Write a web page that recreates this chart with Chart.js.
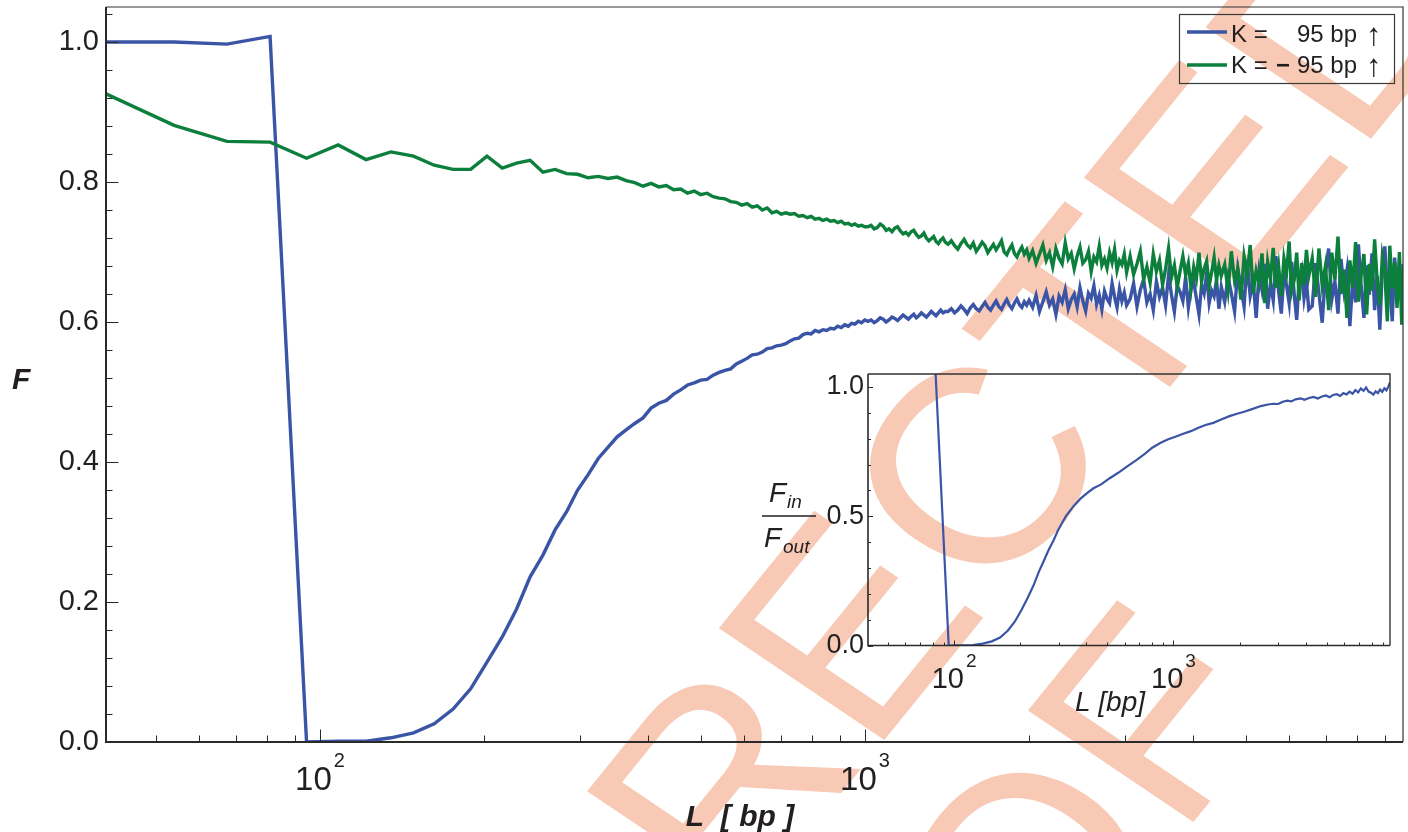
<!DOCTYPE html>
<html>
<head>
<meta charset="utf-8">
<title>F vs L</title>
<script src="https://cdn.jsdelivr.net/npm/chart.js@4.4.1/dist/chart.umd.min.js"></script>
<style>
  body { margin: 0; background: #fff; }
  #wrap { position: relative; width: 1408px; height: 832px; }
  #wrap canvas { position: absolute; left: 0; top: 0; }
</style>
</head>
<body>
<div id="wrap">
  <canvas id="mainChart" width="1408" height="832"></canvas>
  <canvas id="insetChart" width="1408" height="832"></canvas>
</div>
<script>
var FONT = "'Liberation Sans', Arial, Helvetica, sans-serif";
var INK = '#231f20';
var BLUE = '#3a54a6';
var GREEN = '#0c7f3c';

// L [bp], shared by both curves of the main panel
var lengthsBp = [
  40.5, 54, 67.5, 81, 94.5, 108, 121.5, 135, 148.5, 162, 175.5, 189, 202.5, 216, 229.5, 243, 256.5, 270, 283.5, 297,
  310.5, 324, 337.5, 351, 364.5, 378, 391.5, 405, 418.5, 432, 445.5, 459, 472.5, 486, 499.5, 513, 526.5, 540, 553.5, 567,
  580.5, 594, 607.5, 621, 634.5, 648, 661.5, 675, 688.5, 702,
  715.5, 729, 742.5, 756, 769.5, 783, 796.5, 810, 823.5, 837, 850.5, 864, 877.5, 891, 904.5, 918, 931.5, 945, 958.5, 972,
  985.5, 999,
  1012.5, 1026, 1039.5, 1053, 1066.5, 1080, 1093.5, 1107, 1120.5, 1134, 1147.5, 1161, 1174.5, 1188, 1201.5, 1215, 1228.5,
  1242, 1255.5, 1269, 1282.5, 1296, 1309.5, 1323, 1336.5, 1350, 1363.5, 1377, 1390.5, 1404,
  1420, 1440, 1460, 1480, 1500, 1520, 1540, 1560, 1580, 1600, 1620, 1640, 1660, 1680, 1700, 1720, 1740, 1760, 1780, 1800,
  1820, 1840, 1860, 1880, 1900, 1920, 1940, 1960, 1980, 2000,
  2030, 2060, 2090, 2120, 2150, 2180, 2210, 2240, 2270, 2300, 2330, 2360, 2390, 2420, 2450, 2480, 2510, 2540, 2570, 2600,
  2630, 2660, 2690, 2720, 2750, 2780, 2810, 2840, 2870, 2900, 2930, 2960, 2990, 3020,
  3065, 3110, 3155, 3200, 3245, 3290, 3335, 3380, 3425, 3470, 3515, 3560, 3605, 3650, 3695, 3740, 3785, 3830, 3875, 3920,
  3965, 4010, 4055, 4100, 4145, 4190, 4235, 4280, 4325, 4370, 4415, 4460, 4505,
  4570, 4635, 4700, 4765, 4830, 4895, 4960, 5025, 5090, 5155, 5220, 5285, 5350, 5415, 5480, 5545, 5610, 5675, 5740, 5805,
  5870, 5935, 6000, 6065, 6130, 6195, 6260, 6325, 6390, 6455, 6520,
  6615, 6710, 6805, 6900, 6995, 7090, 7185, 7280, 7375, 7470, 7565, 7660, 7755, 7850, 7945, 8040, 8135, 8230, 8325, 8420,
  8515, 8610, 8705, 8800, 8895, 8990, 9085, 9180, 9275, 9370, 9465, 9560, 9655, 9706.5
];

// F for K = 95 bp
var fPlus = [
  1.000, 1.000, 0.997, 1.008, 0.000, 0.001, 0.001, 0.006, 0.013, 0.026, 0.047, 0.076, 0.114, 0.150, 0.190, 0.236, 0.267, 0.303, 0.329, 0.360,
  0.382, 0.405, 0.421, 0.436, 0.446, 0.455, 0.463, 0.477, 0.484, 0.488, 0.497, 0.503, 0.510, 0.513, 0.517, 0.518, 0.524, 0.528, 0.531, 0.533,
  0.540, 0.544, 0.548, 0.553, 0.554, 0.557, 0.562, 0.563, 0.566, 0.567,
  0.569, 0.573, 0.576, 0.577, 0.582, 0.584, 0.583, 0.588, 0.586, 0.589, 0.588, 0.591, 0.590, 0.594, 0.592, 0.596, 0.594, 0.598, 0.597, 0.601,
  0.599, 0.603,
  0.601, 0.603, 0.599, 0.602, 0.606, 0.604, 0.600, 0.603, 0.607, 0.605, 0.602, 0.606, 0.610, 0.607, 0.604, 0.608, 0.611,
  0.606, 0.609, 0.613, 0.610, 0.607, 0.611, 0.615, 0.612, 0.609, 0.613, 0.617, 0.613, 0.615,
  0.615, 0.619, 0.613, 0.617, 0.623, 0.618, 0.612, 0.620, 0.625, 0.619, 0.616, 0.622, 0.628, 0.621, 0.617, 0.624, 0.630, 0.622, 0.618, 0.626,
  0.632, 0.624, 0.619, 0.627, 0.633, 0.625, 0.621, 0.629, 0.624, 0.631,
  0.621, 0.638, 0.615, 0.629, 0.643, 0.624, 0.633, 0.611, 0.637, 0.628, 0.646, 0.619, 0.632, 0.640, 0.622, 0.649, 0.630, 0.616, 0.641, 0.634,
  0.652, 0.625, 0.638, 0.618, 0.644, 0.633, 0.627, 0.655, 0.636, 0.621, 0.647, 0.630, 0.642, 0.624,
  0.633, 0.655, 0.622, 0.646, 0.661, 0.628, 0.640, 0.617, 0.658, 0.636, 0.649, 0.624, 0.667, 0.639, 0.615, 0.652, 0.643, 0.630, 0.664, 0.621,
  0.648, 0.657, 0.634, 0.611, 0.653, 0.641, 0.669, 0.627, 0.645, 0.637, 0.660, 0.619, 0.650,
  0.629, 0.664, 0.641, 0.615, 0.676, 0.650, 0.622, 0.689, 0.637, 0.658, 0.606, 0.671, 0.646, 0.683, 0.619, 0.655, 0.631, 0.694, 0.643, 0.612,
  0.668, 0.652, 0.627, 0.686, 0.640, 0.603, 0.662, 0.675, 0.634, 0.657, 0.618,
  0.623, 0.684, 0.641, 0.599, 0.669, 0.705, 0.632, 0.658, 0.612, 0.690, 0.646, 0.674, 0.594, 0.662, 0.628, 0.711, 0.650, 0.606, 0.681, 0.639,
  0.698, 0.617, 0.666, 0.589, 0.677, 0.708, 0.635, 0.654, 0.601, 0.692, 0.644, 0.670, 0.625, 0.683
];

// F for K = -95 bp
var fMinus = [
  0.926, 0.881, 0.858, 0.857, 0.834, 0.853, 0.832, 0.843, 0.837, 0.824, 0.818, 0.818, 0.837, 0.820, 0.827, 0.831, 0.814, 0.818, 0.812, 0.811,
  0.806, 0.808, 0.805, 0.807, 0.802, 0.799, 0.794, 0.798, 0.793, 0.795, 0.789, 0.790, 0.784, 0.787, 0.782, 0.784, 0.779, 0.777, 0.776, 0.772,
  0.771, 0.767, 0.769, 0.764, 0.766, 0.760, 0.763, 0.756, 0.758, 0.754,
  0.756, 0.754, 0.755, 0.751, 0.752, 0.749, 0.751, 0.747, 0.748, 0.745, 0.747, 0.744, 0.745, 0.742, 0.744, 0.740, 0.741, 0.738, 0.740, 0.737,
  0.738, 0.736,
  0.736, 0.738, 0.733, 0.735, 0.740, 0.737, 0.731, 0.733, 0.729, 0.734, 0.736, 0.730, 0.726, 0.728, 0.724, 0.729, 0.731,
  0.725, 0.721, 0.723, 0.727, 0.720, 0.716, 0.719, 0.722, 0.715, 0.712, 0.717, 0.720, 0.714,
  0.711, 0.716, 0.709, 0.704, 0.712, 0.718, 0.710, 0.706, 0.713, 0.701, 0.707, 0.714, 0.709, 0.699, 0.705, 0.711, 0.703, 0.709, 0.716, 0.700,
  0.696, 0.704, 0.710, 0.698, 0.693, 0.701, 0.707, 0.697, 0.703, 0.691,
  0.702, 0.684, 0.697, 0.710, 0.688, 0.699, 0.679, 0.705, 0.691, 0.683, 0.713, 0.690, 0.698, 0.676, 0.694, 0.707, 0.684, 0.689, 0.701, 0.672,
  0.693, 0.686, 0.708, 0.681, 0.690, 0.677, 0.699, 0.685, 0.704, 0.674, 0.688, 0.682, 0.697, 0.671,
  0.694, 0.668, 0.683, 0.701, 0.661, 0.679, 0.656, 0.697, 0.672, 0.688, 0.653, 0.676, 0.705, 0.664, 0.681, 0.650, 0.673, 0.694, 0.667, 0.684,
  0.648, 0.679, 0.662, 0.699, 0.658, 0.676, 0.687, 0.652, 0.671, 0.692, 0.660, 0.681, 0.666,
  0.682, 0.645, 0.701, 0.659, 0.676, 0.632, 0.694, 0.668, 0.710, 0.641, 0.673, 0.655, 0.698, 0.627, 0.686, 0.662, 0.706, 0.649, 0.679, 0.637,
  0.691, 0.670, 0.715, 0.644, 0.660, 0.699, 0.631, 0.684, 0.653, 0.703, 0.666,
  0.691, 0.636, 0.705, 0.652, 0.680, 0.617, 0.699, 0.661, 0.722, 0.640, 0.675, 0.606, 0.688, 0.649, 0.714, 0.629, 0.668, 0.697, 0.611, 0.683,
  0.645, 0.718, 0.657, 0.624, 0.693, 0.671, 0.601, 0.709, 0.648, 0.685, 0.620, 0.700, 0.596, 0.676
];

// inset: F_in / F_out against L
var insetLengths = [
  40.5, 54, 67.5, 81, 94.5, 108, 121.5, 135, 148.5, 162, 175.5, 189, 202.5, 216, 229.5, 243, 256.5, 270, 283.5, 297,
  310.5, 324, 351, 378, 405, 432, 470, 510, 560, 620, 680, 740, 800, 870, 940, 1020, 1100, 1200, 1300, 1400,
  1520, 1650, 1800, 1950, 2100, 2300, 2500, 2700, 2850, 3000, 3150, 3300, 3450, 3600, 3800, 3950, 4150, 4350, 4550, 4750,
  4950, 5150, 5350, 5550, 5750, 5950, 6150, 6350, 6550, 6750, 6950, 7150, 7350, 7550, 7750, 7950, 8150, 8350, 8550, 8750,
  8950, 9150, 9350, 9550, 9706.5
];
var insetRatio = [
  1.080, 1.135, 1.162, 1.176, 0.000, 0.001, 0.002, 0.007, 0.016, 0.031, 0.057, 0.092, 0.136, 0.183, 0.230, 0.284, 0.328, 0.370, 0.405, 0.444,
  0.474, 0.501, 0.540, 0.569, 0.590, 0.608, 0.624, 0.646, 0.668, 0.695, 0.718, 0.741, 0.765, 0.783, 0.797, 0.807, 0.818, 0.829, 0.842, 0.853,
  0.861, 0.874, 0.887, 0.896, 0.904, 0.915, 0.926, 0.932, 0.935, 0.934, 0.943, 0.947, 0.944, 0.952, 0.956, 0.950, 0.957, 0.961, 0.955, 0.963,
  0.967, 0.960, 0.969, 0.972, 0.965, 0.976, 0.971, 0.982, 0.974, 0.988, 0.979, 0.994, 0.985, 0.998, 0.982, 0.978, 0.970, 0.983, 0.976, 0.990,
  0.981, 0.995, 0.987, 1.002, 1.018
];

var xMajorTicks = [100, 1000];
var xMinorTicks = [50, 60, 70, 80, 90, 200, 300, 400, 500, 600, 700, 800, 900, 2000, 3000, 4000, 5000, 6000, 7000, 8000, 9000];
var yMainTicks = [0, 0.2, 0.4, 0.6, 0.8, 1.0];
var yMainMinor = [0.04, 0.08, 0.12, 0.16, 0.24, 0.28, 0.32, 0.36, 0.44, 0.48, 0.52, 0.56, 0.64, 0.68, 0.72, 0.76, 0.84, 0.88, 0.92, 0.96, 1.04];
var yInsetTicks = [0, 0.5, 1.0];
var yInsetMinor = [0.1, 0.2, 0.3, 0.4, 0.6, 0.7, 0.8, 0.9];

var legendRows = [
  { color: BLUE, sign: '' },
  { color: GREEN, sign: '\u2212' }
];

function pts(xs, ys) {
  return xs.map(function (L, i) { return { x: L, y: ys[i] }; });
}

// fixed box sizes; drop the extra room Chart.js keeps for half tick labels
function fixWidth(w) {
  return function (s) { s.width = w; s.paddingTop = 0; s.paddingBottom = 0; };
}
function fixHeight(h) {
  return function (s) { s.height = h; s.paddingLeft = 0; s.paddingRight = 0; };
}

// big diagonal stamp behind the main panel
var stamp = {
  id: 'stamp',
  beforeDraw: function (chart) {
    var ctx = chart.ctx;
    var a = -51 * Math.PI / 180, b = 34 * Math.PI / 180;
    ctx.save();
    ctx.setTransform(Math.cos(a), Math.sin(a), Math.cos(b), Math.sin(b), 332, 1422);
    ctx.fillStyle = '#f8c9b4';
    ctx.font = '290px ' + FONT;
    ctx.textAlign = 'left';
    ctx.textBaseline = 'alphabetic';
    ctx.fillText('CORRECTED', 0, 0);
    ctx.fillText('PROOF', 105, 293);
    ctx.restore();
  }
};

// frame, inward ticks and 10^n labels
var axesDecor = {
  id: 'axesDecor',
  afterDraw: function (chart, args, o) {
    var ctx = chart.ctx, a = chart.chartArea, x = chart.scales.x, y = chart.scales.y;
    ctx.save();
    ctx.strokeStyle = '#333';
    ctx.lineWidth = o.frameWidth;
    ctx.beginPath();
    ctx.moveTo(a.left, a.top); ctx.lineTo(a.right, a.top); ctx.lineTo(a.right, a.bottom);
    ctx.stroke();
    ctx.strokeStyle = '#2a2a2a';
    ctx.lineWidth = o.axisWidth;
    ctx.beginPath();
    ctx.moveTo(a.left, a.top); ctx.lineTo(a.left, a.bottom); ctx.lineTo(a.right, a.bottom);
    ctx.stroke();

    ctx.lineWidth = 1;
    ctx.beginPath();
    function xt(v, len) {
      var px = Math.round(x.getPixelForValue(v)) + 0.5;
      ctx.moveTo(px, a.bottom); ctx.lineTo(px, a.bottom - len);
    }
    function yt(v, len) {
      var py = Math.round(y.getPixelForValue(v)) + 0.5;
      ctx.moveTo(a.left, py); ctx.lineTo(a.left + len, py);
    }
    xMajorTicks.forEach(function (v) { xt(v, o.majorLen); });
    xMinorTicks.forEach(function (v) { xt(v, o.minorLen); });
    o.yMajor.forEach(function (v) { yt(v, o.majorLen); });
    o.yMinor.forEach(function (v) { yt(v, o.minorLen); });
    ctx.stroke();

    ctx.fillStyle = INK;
    ctx.textAlign = 'left';
    ctx.textBaseline = 'alphabetic';
    xMajorTicks.forEach(function (v) {
      var base = '10', sup = String(Math.round(Math.log10(v)));
      ctx.font = o.baseSize + 'px ' + FONT;
      var w1 = ctx.measureText(base).width;
      ctx.font = o.supSize + 'px ' + FONT;
      var w2 = ctx.measureText(sup).width;
      var left = x.getPixelForValue(v) - (w1 + w2 + 2) / 2;
      ctx.font = o.baseSize + 'px ' + FONT;
      ctx.fillText(base, left, o.baseY);
      ctx.font = o.supSize + 'px ' + FONT;
      ctx.fillText(sup, left + w1 + 2, o.supY);
    });
    ctx.restore();
  }
};

// free text: axis titles
var texts = {
  id: 'texts',
  afterDraw: function (chart, args, o) {
    var ctx = chart.ctx;
    ctx.save();
    ctx.fillStyle = INK;
    ctx.strokeStyle = INK;
    ctx.textBaseline = 'alphabetic';
    o.items.forEach(function (t) {
      if (t.bar) {
        ctx.lineWidth = 1.5;
        ctx.beginPath(); ctx.moveTo(t.x1, t.y); ctx.lineTo(t.x2, t.y); ctx.stroke();
        return;
      }
      ctx.font = t.font;
      ctx.textAlign = t.align || 'left';
      ctx.fillText(t.text, t.x, t.y);
    });
    ctx.restore();
  }
};

// legend box in the top right corner
var keyBox = {
  id: 'keyBox',
  afterDraw: function (chart) {
    var ctx = chart.ctx;
    ctx.save();
    ctx.strokeStyle = '#3a3a3a';
    ctx.lineWidth = 1.2;
    ctx.strokeRect(1179.5, 14.5, 215, 69);
    legendRows.forEach(function (row, i) {
      var ly = 32 + i * 33, base = 42 + i * 31;
      ctx.strokeStyle = row.color;
      ctx.lineWidth = 3.5;
      ctx.beginPath(); ctx.moveTo(1187, ly); ctx.lineTo(1227, ly); ctx.stroke();
      ctx.fillStyle = INK;
      ctx.textAlign = 'left';
      ctx.textBaseline = 'alphabetic';
      ctx.font = '24px ' + FONT;
      ctx.fillText('K =', 1231, base);
      if (row.sign) {
        ctx.font = 'bold 24px ' + FONT;
        ctx.fillText(row.sign, 1276, base);
        ctx.font = '24px ' + FONT;
      }
      ctx.fillText('95 bp', 1297, base);
      ctx.font = '31px ' + FONT;
      ctx.fillText('\u2191', 1366, base + 3);
    });
    ctx.restore();
  }
};

new Chart(document.getElementById('mainChart'), {
  type: 'line',
  data: {
    datasets: [
      { label: 'K = \u221295 bp', data: pts(lengthsBp, fMinus), borderColor: GREEN, borderWidth: 3.4,
        pointRadius: 0, order: 0 },
      { label: 'K = 95 bp', data: pts(lengthsBp, fPlus), borderColor: BLUE, borderWidth: 3.4,
        pointRadius: 0, order: 1 }
    ]
  },
  options: {
    responsive: false,
    animation: false,
    devicePixelRatio: 1,
    events: [],
    layout: { padding: { top: 7, right: 5, left: 0, bottom: 0 } },
    plugins: {
      legend: { display: false },
      tooltip: { enabled: false },
      axesDecor: { frameWidth: 1.2, axisWidth: 2, majorLen: 12.5, minorLen: 6.5,
                   yMajor: yMainTicks, yMinor: yMainMinor, baseSize: 33, supSize: 20, baseY: 790, supY: 767 },
      texts: { items: [
        { text: 'F', x: 12, y: 389, font: 'italic bold 30px ' + FONT },
        { text: 'L  [ bp ]', x: 740, y: 826, align: 'center', font: 'italic bold 30px ' + FONT }
      ] }
    },
    scales: {
      x: {
        type: 'logarithmic', min: 40.5, max: 9706.5,
        afterFit: fixHeight(90),
        ticks: { display: false },
        grid: { display: false, drawTicks: false },
        border: { display: false }
      },
      y: {
        type: 'linear', min: 0, max: 1.05,
        afterFit: fixWidth(106),
        afterBuildTicks: function (s) { s.ticks = yMainTicks.map(function (v) { return { value: v }; }); },
        ticks: { callback: function (v) { return Number(v).toFixed(1); }, color: INK, padding: 7,
                 font: { family: FONT, size: 29 } },
        grid: { display: false, drawTicks: false },
        border: { display: false }
      }
    }
  },
  plugins: [stamp, axesDecor, texts, keyBox]
});

new Chart(document.getElementById('insetChart'), {
  type: 'line',
  data: {
    datasets: [
      { label: 'F_in / F_out', data: pts(insetLengths, insetRatio), borderColor: BLUE, borderWidth: 2.2,
        pointRadius: 0 }
    ]
  },
  options: {
    responsive: false,
    animation: false,
    devicePixelRatio: 1,
    events: [],
    layout: { padding: { top: 374, right: 18, left: 0, bottom: 0 } },
    plugins: {
      legend: { display: false },
      tooltip: { enabled: false },
      axesDecor: { frameWidth: 1.4, axisWidth: 1.6, majorLen: 5, minorLen: 3,
                   yMajor: yInsetTicks, yMinor: yInsetMinor, baseSize: 29, supSize: 19, baseY: 688, supY: 667 },
      texts: { items: [
        { text: 'L [bp]', x: 1110, y: 711, align: 'center', font: 'italic 28px ' + FONT },
        { text: 'F', x: 769, y: 502, font: 'italic 28px ' + FONT },
        { text: 'in', x: 787, y: 508, font: 'italic 19px ' + FONT },
        { bar: true, x1: 762, x2: 816, y: 516 },
        { text: 'F', x: 764, y: 547, font: 'italic 28px ' + FONT },
        { text: 'out', x: 783, y: 553, font: 'italic 19px ' + FONT }
      ] }
    },
    scales: {
      x: {
        type: 'logarithmic', min: 40.5, max: 9706.5,
        afterFit: fixHeight(186.5),
        ticks: { display: false },
        grid: { display: false, drawTicks: false },
        border: { display: false }
      },
      y: {
        type: 'linear', min: 0, max: 1.05,
        afterFit: fixWidth(868),
        afterBuildTicks: function (s) { s.ticks = yInsetTicks.map(function (v) { return { value: v }; }); },
        ticks: { callback: function (v) { return Number(v).toFixed(1); }, color: INK, padding: 4,
                 font: { family: FONT, size: 27 } },
        grid: { display: false, drawTicks: false },
        border: { display: false }
      }
    }
  },
  plugins: [axesDecor, texts]
});
</script>
</body>
</html>
